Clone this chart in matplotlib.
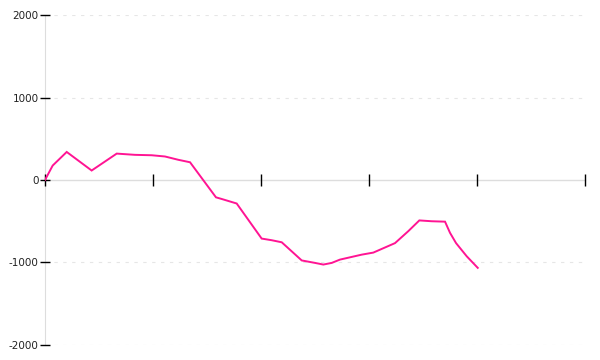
import matplotlib
matplotlib.use("Agg")
import matplotlib.pyplot as plt

# x in units of the major tick spacing (0..5)
x_vals = [0.0, 0.071, 0.201, 0.432, 0.664, 0.833, 0.988, 1.111, 1.234, 1.343,
          1.583, 1.636, 1.775, 2.006, 2.099, 2.192, 2.377, 2.5, 2.577, 2.655,
          2.731, 2.932, 3.04, 3.241, 3.364, 3.466, 3.581, 3.704, 3.75, 3.806,
          3.905, 4.007]
y_vals = [0, 175, 340, 115, 320, 305, 300, 285, 245, 215,
          -210, -230, -285, -710, -730, -755, -975, -1005, -1025, -1005,
          -965, -905, -880, -765, -620, -490, -500, -505, -640, -765,
          -925, -1065]
y_ticks = [-2000, -1000, 0, 1000, 2000]
x_ticks = [0, 1, 2, 3, 4, 5]

fig = plt.figure(figsize=(6, 3.6), dpi=100)
ax = fig.add_axes([0.075, 0.0417, 0.9, 0.9166])

ax.plot(x_vals, y_vals, color="#ff1493", linewidth=1.4, solid_joinstyle="miter", zorder=3)

ax.set_xlim(0, 5)
ax.set_ylim(-2000, 2000)
ax.set_yticks(y_ticks)
ax.set_yticklabels([str(v) for v in y_ticks])
ax.set_xticks(x_ticks)
ax.set_xticklabels([])

for v in y_ticks:
    if v != 0:
        ax.axhline(v, color="#e6e6e6", linewidth=0.8, linestyle=(0, (3, 5)), zorder=0)

ax.spines["top"].set_visible(False)
ax.spines["right"].set_visible(False)
ax.spines["left"].set_color("#dddddd")
ax.spines["bottom"].set_position(("data", 0))
ax.spines["bottom"].set_color("#dddddd")
ax.spines["bottom"].set_linewidth(1.0)
for s in ax.spines.values():
    s.set_zorder(1)

ax.tick_params(axis="y", direction="inout", length=7, width=1, color="black",
               labelsize=7.5, labelcolor="#222222", pad=1)
ax.tick_params(axis="x", direction="inout", length=8, width=1, color="black")

fig.savefig("out.png", dpi=100, facecolor="white")
